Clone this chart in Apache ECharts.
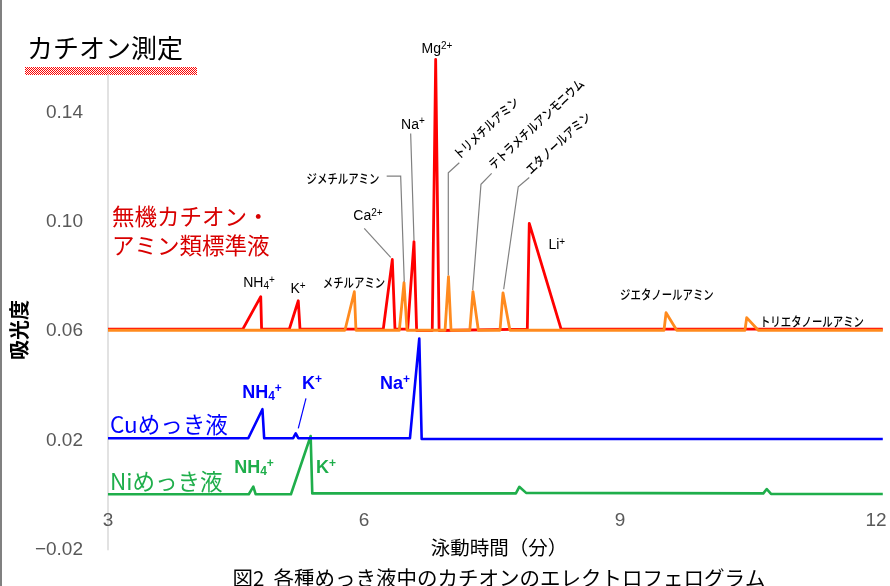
<!DOCTYPE html>
<html>
<head>
<meta charset="utf-8">
<script src="https://cdn.jsdelivr.net/npm/echarts@6/dist/echarts.min.js"></script>
<style>
  html, body { margin: 0; padding: 0; background: #fff; }
  #chart { width: 890px; height: 586px; }
</style>
</head>
<body>
<div id="chart"></div>
<script>
// ---- axis ticks ----
const yTicks = [-0.02, 0.02, 0.06, 0.10, 0.14];
const xTicks = [3, 6, 9, 12];

// ---- electropherograms: [migration time (min), absorbance] ----
// standard solution, inorganic cations
const standardCations = [
  [3.0, 0.0607], [4.58, 0.0607], [4.79, 0.0726], [4.80, 0.0607],
  [5.125, 0.0607], [5.23, 0.0711], [5.25, 0.0607],
  [6.226, 0.0607], [6.332, 0.0862], [6.363, 0.0607],
  [6.512, 0.0607], [6.586, 0.0927], [6.617, 0.0602],
  [6.80, 0.0602], [6.84, 0.1594], [6.88, 0.0602],
  [7.914, 0.0607], [7.937, 0.0994], [8.31, 0.0607],
  [12.08, 0.0607]
];
// standard solution, amines
const standardAmines = [
  [3.0, 0.0603], [5.777, 0.0603], [5.887, 0.0744], [5.906, 0.0603],
  [6.414, 0.0603], [6.469, 0.0777], [6.504, 0.0603],
  [6.95, 0.0603], [6.99, 0.0799], [7.02, 0.0603],
  [7.24, 0.0603], [7.277, 0.0744], [7.34, 0.0603],
  [7.594, 0.0603], [7.629, 0.0740], [7.71, 0.0603],
  [9.516, 0.0603], [9.54, 0.0667], [9.665, 0.0603],
  [10.465, 0.0603], [10.485, 0.0649], [10.62, 0.0603],
  [12.08, 0.0603]
];
// Cu plating bath
const cuBath = [
  [3.0, 0.0208], [4.644, 0.0208], [4.81, 0.0314], [4.83, 0.0208],
  [5.17, 0.0208], [5.20, 0.0226], [5.23, 0.0208],
  [6.539, 0.0208], [6.648, 0.0573], [6.676, 0.0205],
  [12.08, 0.0205]
];
// Ni plating bath
const niBath = [
  [3.0, 0.0003], [4.65, 0.0003], [4.703, 0.0031], [4.73, 0.0003],
  [5.144, 0.0003], [5.375, 0.0216], [5.394, 0.0006],
  [7.78, 0.0006], [7.82, 0.0030], [7.90, 0.0008],
  [10.68, 0.0006], [10.72, 0.0022], [10.77, 0.0004],
  [12.08, 0.0004]
];

const RED = '#ff0000', ORANGE = '#ff8a1e', BLUE = '#0000ff', GREEN = '#1fae4b';
const CJK = '"Noto Sans CJK JP", sans-serif';
const LAT = '"Liberation Sans", Arial, sans-serif';

const chart = echarts.init(document.getElementById('chart'), null, { renderer: 'canvas' });

function trace(name, data, color, width, z) {
  return {
    name, type: 'line', data, showSymbol: false, symbol: 'none',
    clip: false, animation: false, z,
    lineStyle: { color, width, join: 'round' }
  };
}

chart.setOption({
  animation: false,
  backgroundColor: '#ffffff',
  grid: { left: 108, right: 5.5, top: 75, bottom: 36.3, containLabel: false },
  xAxis: {
    type: 'value', min: 3, max: 12.1,
    // tick labels sit along the zero line, inside the plot
    offset: -54.7,
    axisLine: { show: false, onZero: false },
    axisTick: { show: false },
    splitLine: { show: false },
    axisLabel: {
      customValues: xTicks, margin: 16,
      color: '#595959', fontSize: 19, fontFamily: LAT
    }
  },
  yAxis: {
    type: 'value', min: -0.02, max: 0.1537,
    axisLine: { show: true, lineStyle: { color: '#d9d9d9', width: 1.5 } },
    axisTick: { show: false },
    splitLine: { show: false },
    axisLabel: {
      customValues: yTicks, margin: 25,
      color: '#595959', fontSize: 19, fontFamily: LAT,
      formatter: v => (v < 0 ? '\u2212' + Math.abs(v).toFixed(2) : v.toFixed(2))
    }
  },
  series: [
    trace('Ni', niBath, GREEN, 2.6, 2),
    trace('Cu', cuBath, BLUE, 2.6, 3),
    trace('cations', standardCations, RED, 2.8, 4),
    trace('amines', standardAmines, ORANGE, 2.8, 5)
  ]
});

// ---- annotations (anchored in data coordinates) ----
const ionRich = (color, size, bold) => ({
  m: { fontSize: size, fontFamily: LAT, fontWeight: bold ? 'bold' : 'normal', fill: color, color, verticalAlign: 'middle', lineHeight: size + 2 },
  sb: { fontSize: Math.round(size * 0.68), fontFamily: LAT, fontWeight: bold ? 'bold' : 'normal', fill: color, color, verticalAlign: 'bottom', lineHeight: Math.round(size * 0.68) },
  sp: { fontSize: Math.round(size * 0.68), fontFamily: LAT, fontWeight: bold ? 'bold' : 'normal', fill: color, color, verticalAlign: 'top', lineHeight: Math.round(size * 0.68) }
});

const DEG = Math.PI / 180;
const labels = [
  // standard solution
  { text: '{m|NH}{sb|4}{sp|+}', at: [4.77, 0.0776], rich: ionRich('#000', 14) },
  { text: '{m|K}{sp|+}', at: [5.227, 0.0754], rich: ionRich('#000', 14) },
  { text: 'メチルアミン', at: [5.883, 0.0779], cjk: 13 },
  { text: '{m|Ca}{sp|2+}', at: [6.047, 0.1020], rich: ionRich('#000', 14) },
  { text: 'ジメチルアミン', at: [5.754, 0.1160], cjk: 13 },
  { text: '{m|Na}{sp|+}', at: [6.574, 0.1355], rich: ionRich('#000', 14) },
  { text: '{m|Mg}{sp|2+}', at: [6.855, 0.1632], rich: ionRich('#000', 14) },
  { text: 'トリメチルアミン', at: [7.125, 0.1222], cjk: 13, rot: 43 },
  { text: 'テトラメチルアンモニウム', at: [7.535, 0.1185], cjk: 13, rot: 43 },
  { text: 'エタノールアミン', at: [7.969, 0.1167], cjk: 13, rot: 43 },
  { text: '{m|Li}{sp|+}', at: [8.26, 0.0915], rich: ionRich('#000', 14) },
  { text: 'ジエタノールアミン', at: [9.55, 0.0735], cjk: 13 },
  { text: 'トリエタノールアミン', at: [11.25, 0.0637], cjk: 13 },
  // Cu bath
  { text: '{m|NH}{sb|4}{sp|+}', at: [4.805, 0.0373], rich: ionRich(BLUE, 18, true) },
  { text: '{m|K}{sp|+}', at: [5.39, 0.0406], rich: ionRich(BLUE, 18, true) },
  { text: '{m|Na}{sp|+}', at: [6.363, 0.0406], rich: ionRich(BLUE, 18, true) },
  // Ni bath
  { text: '{m|NH}{sb|4}{sp|+}', at: [4.711, 0.0099], rich: ionRich(GREEN, 18, true) },
  { text: '{m|K}{sp|+}', at: [5.555, 0.0099], rich: ionRich(GREEN, 18, true) },
  // trace names
  { text: '無機カチオン・', at: [3.047, 0.1020], name: '#d80000' },
  { text: 'アミン類標準液', at: [3.047, 0.0915], name: '#d80000' },
  { text: 'Cuめっき液', at: [3.023, 0.0260], name: BLUE },
  { text: 'Niめっき液', at: [3.023, 0.0051], name: GREEN }
];

const leaders = [
  { color: '#808080', pts: [[6.003, 0.0976], [6.313, 0.0870]] },
  { color: '#808080', pts: [[6.266, 0.1167], [6.430, 0.1167], [6.472, 0.0780]] },
  { color: '#808080', pts: [[6.547, 0.1323], [6.586, 0.0933]] },
  { color: '#808080', pts: [[7.117, 0.1216], [6.988, 0.1179], [6.988, 0.0804]] },
  { color: '#808080', pts: [[7.496, 0.1177], [7.371, 0.1137], [7.274, 0.0750]] },
  { color: '#808080', pts: [[7.937, 0.1162], [7.808, 0.1128], [7.637, 0.0753]] },
  { color: BLUE, pts: [[5.320, 0.0354], [5.230, 0.0244]] }
];

function toPx(p) { return chart.convertToPixel({ gridIndex: 0 }, p); }

function buildGraphic() {
  const els = [];

  // left frame edge
  els.push({ type: 'line', shape: { x1: 1, y1: 0, x2: 1, y2: 586 }, style: { stroke: '#808080', lineWidth: 2 }, silent: true });

  // heading with checkered underline
  const cv = document.createElement('canvas');
  cv.width = 2; cv.height = 2;
  const cx = cv.getContext('2d');
  cx.fillStyle = '#ffffff'; cx.fillRect(0, 0, 2, 2);
  cx.fillStyle = '#ff0000'; cx.fillRect(0, 0, 1, 1); cx.fillRect(1, 1, 1, 1);
  els.push({ type: 'rect', shape: { x: 25, y: 67, width: 172, height: 8 }, style: { fill: { image: cv, repeat: 'repeat' } }, silent: true });
  els.push({ type: 'text', x: 27, y: 48, style: { text: 'カチオン測定', fill: '#000', font: '26px ' + CJK, align: 'left', verticalAlign: 'middle' }, silent: true });

  // axis titles and caption
  els.push({ type: 'text', x: 19, y: 330, rotation: 90 * DEG, style: { text: '吸光度', fill: '#000', font: 'bold 20px ' + CJK, align: 'center', verticalAlign: 'middle' }, silent: true });
  els.push({ type: 'text', x: 499, y: 548, style: { text: '泳動時間（分）', fill: '#000', font: '19.5px ' + CJK, align: 'center', verticalAlign: 'middle' }, silent: true });
  els.push({ type: 'text', x: 499, y: 578, style: { text: '図2  各種めっき液中のカチオンのエレクトロフェログラム', fill: '#000', font: '20.5px ' + CJK, align: 'center', verticalAlign: 'middle' }, silent: true });

  // leader lines
  leaders.forEach(l => {
    els.push({ type: 'polyline', shape: { points: l.pts.map(toPx) }, style: { stroke: l.color, lineWidth: 1.2, fill: null }, silent: true, z: 10 });
  });

  // labels
  labels.forEach(l => {
    const [x, y] = toPx(l.at);
    const el = { type: 'text', x, y, silent: true, z: 10, style: { text: l.text } };
    if (l.rich) {
      Object.assign(el.style, { rich: l.rich, align: 'center', verticalAlign: 'middle' });
    } else if (l.name) {
      Object.assign(el.style, { fill: l.name, font: '22.5px ' + CJK, align: 'left', verticalAlign: 'middle' });
    } else {
      // condensed katakana compound names
      Object.assign(el.style, { fill: '#000', font: '500 ' + l.cjk + 'px ' + CJK, align: l.rot ? 'left' : 'center', verticalAlign: l.rot ? 'bottom' : 'middle' });
      el.scaleX = 0.8;
      if (l.rot) el.rotation = l.rot * DEG;
    }
    els.push(el);
  });
  return els;
}

chart.setOption({ graphic: { elements: buildGraphic() } });
</script>
</body>
</html>
